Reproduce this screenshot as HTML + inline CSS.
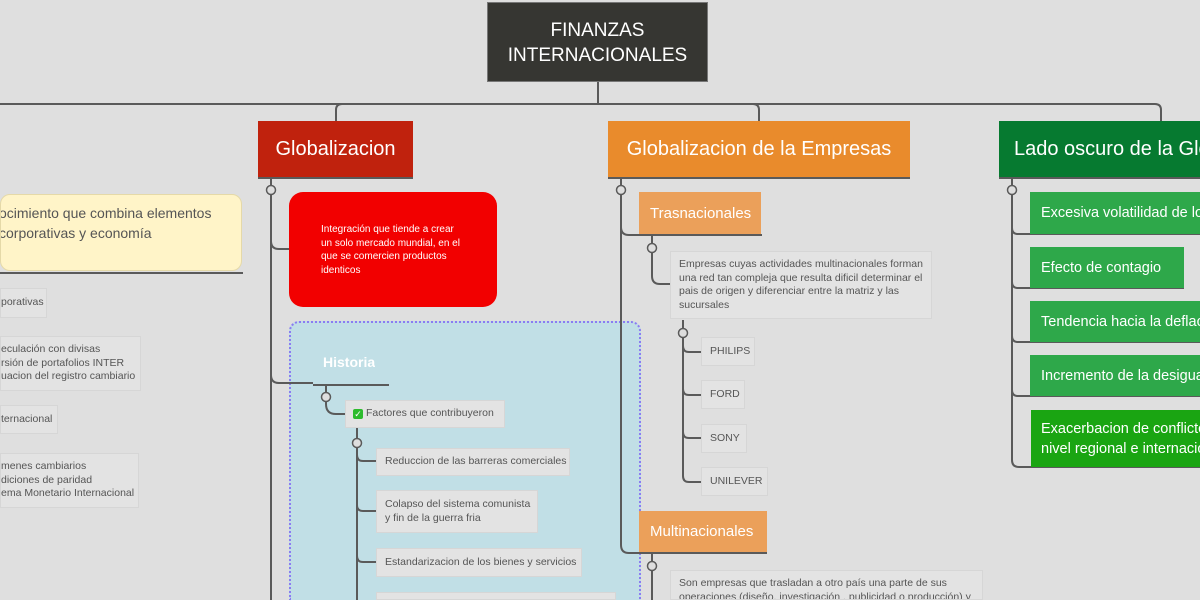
<!DOCTYPE html>
<html><head><meta charset="utf-8"><style>
html,body{margin:0;width:1200px;height:600px;overflow:hidden;background:#dfdfdf}
#w{position:relative;width:1200px;height:600px;overflow:hidden;font-family:"Liberation Sans",sans-serif}
.b{position:absolute;box-sizing:border-box;overflow:hidden}
.g{background:#e3e3e3;border:1px solid #d6d6d6;color:#555;font-size:10.5px;line-height:13.5px;padding:0 8px;display:flex;align-items:center;white-space:nowrap}
svg{position:absolute;left:0;top:0}
</style></head><body><div id="w">
<div class="b" style="left:0;top:194px;width:242px;height:77px;background:#fff4c8;border:1px solid #e5d9a8;border-radius:10px;color:#555;font-size:14px;line-height:20px;padding:8px 0 0 0;white-space:nowrap"><div style="margin-left:-2px">ocimiento que combina elementos<br>corporativas y economía</div></div>
<div class="b g" style="left:0;top:288px;width:47px;height:30px;padding-left:0">porativas</div>
<div class="b g" style="left:0;top:336px;width:141px;height:55px;padding-left:0">eculación con divisas<br>rsión de portafolios INTER<br>uacion del registro cambiario</div>
<div class="b g" style="left:0;top:405px;width:58px;height:29px;padding-left:0">ternacional</div>
<div class="b g" style="left:0;top:453px;width:139px;height:55px;padding-left:0">menes cambiarios<br>diciones de paridad<br>ema Monetario Internacional</div>

<div class="b" style="left:289px;top:321px;width:352px;height:279px;background:#c1dfe6;border:2px dotted #8b7cf2;border-bottom:none;border-radius:10px 10px 0 0"></div>

<svg width="1200" height="600" fill="none" stroke="#5a5a5a" stroke-width="2">
<path d="M598 82V104M0 104H1155q6 0 6 6V121M342 104q-6 0-6 6V121M753 104q6 0 6 6V121"/>
<path d="M0 273H243M258 178H413M608 178H910M999 178H1200"/>
<path d="M271 178V600M271 241q0 8 8 8H289M271 375q0 8 8 8H313M313 385H389"/>
<path d="M326 385V404q0 10 10 10H345M357 428V600M357 455q0 6 6 6H376M357 505q0 6 6 6H376M357 556q0 6 6 6H376"/>
<path d="M621 178V545q0 8 8 8H767M621 227q0 8 8 8H762M652 235V276q0 8 8 8H670M683 320V346q0 6 6 6H701M683 389q0 6 6 6H701M683 432q0 6 6 6H701M683 345V476q0 6 6 6H701M652 553V600"/>
<path d="M1012 178V460q0 7 7 7H1200M1012 228q0 6 6 6H1200M1012 282q0 6 6 6H1184M1012 336q0 6 6 6H1200M1012 390q0 6 6 6H1200"/>
<g fill="#dedede" stroke-width="1.5"><circle cx="271" cy="190" r="4.5"/><circle cx="326" cy="397" r="4.5"/><circle cx="357" cy="443" r="4.5"/><circle cx="621" cy="190" r="4.5"/><circle cx="652" cy="248" r="4.5"/><circle cx="683" cy="333" r="4.5"/><circle cx="652" cy="566" r="4.5"/><circle cx="1012" cy="190" r="4.5"/></g>
</svg>

<div class="b" style="left:487px;top:2px;width:221px;height:80px;background:#363632;border:1px solid #777;color:#fff;font-size:19px;line-height:25px;text-align:center;padding-top:15px">FINANZAS<br>INTERNACIONALES</div>
<div class="b" style="left:258px;top:121px;width:155px;height:56px;background:#c0220d;color:#fff;font-size:20px;display:flex;align-items:center;justify-content:center">Globalizacion</div>
<div class="b" style="left:608px;top:121px;width:302px;height:56px;background:#e98b2c;color:#fff;font-size:20px;display:flex;align-items:center;justify-content:center">Globalizacion de la Empresas</div>
<div class="b" style="left:999px;top:121px;width:201px;height:56px;background:#067a30;color:#fff;font-size:20px;display:flex;align-items:center;padding-left:15px;white-space:nowrap">Lado oscuro de la Globalizacion</div>

<div class="b" style="left:289px;top:192px;width:208px;height:115px;background:#f20000;border-radius:14px;color:#fff;font-size:10px;line-height:13.5px;padding:31px 0 0 32px">Integración que tiende a crear<br>un solo mercado mundial, en el<br>que se comercien productos<br>identicos</div>
<div class="b" style="left:323px;top:354px;color:#fff;font-weight:bold;font-size:14px">Historia</div>
<div class="b g" style="left:345px;top:400px;width:160px;height:28px;padding:0 7px"><span style="display:inline-block;width:10px;height:10px;background:#2dbb2d;border-radius:2px;color:#fff;font-size:9px;line-height:10px;text-align:center;margin-right:3px">✓</span>Factores que contribuyeron</div>
<div class="b g" style="left:376px;top:448px;width:194px;height:28px">Reduccion de las barreras comerciales</div>
<div class="b g" style="left:376px;top:490px;width:162px;height:43px">Colapso del sistema comunista<br>y fin de la guerra fria</div>
<div class="b g" style="left:376px;top:548px;width:206px;height:29px">Estandarizacion de los bienes y servicios</div>
<div class="b g" style="left:376px;top:592px;width:240px;height:8px"></div>

<div class="b" style="left:639px;top:192px;width:122px;height:42px;background:#eba05a;color:#fff;font-size:15px;display:flex;align-items:center;padding-left:11px">Trasnacionales</div>
<div class="b g" style="left:670px;top:251px;width:262px;height:68px;white-space:normal;align-items:center">Empresas cuyas actividades multinacionales forman una red tan compleja que resulta dificil determinar el pais de origen y diferenciar entre la matriz y las sucursales</div>
<div class="b g" style="left:701px;top:337px;width:54px;height:29px">PHILIPS</div>
<div class="b g" style="left:701px;top:380px;width:44px;height:29px">FORD</div>
<div class="b g" style="left:701px;top:424px;width:46px;height:29px">SONY</div>
<div class="b g" style="left:701px;top:467px;width:67px;height:29px">UNILEVER</div>
<div class="b" style="left:639px;top:511px;width:128px;height:41px;background:#eba05a;color:#fff;font-size:15px;display:flex;align-items:center;padding-left:11px">Multinacionales</div>
<div class="b g" style="left:670px;top:570px;width:313px;height:30px;white-space:normal;align-items:flex-start;padding-top:6px">Son empresas que trasladan a otro país una parte de sus operaciones (diseño, investigación , publicidad o producción) y</div>

<div class="b" style="left:1030px;top:192px;width:170px;height:42px;background:#2ea84a;color:#fff;font-size:14.5px;display:flex;align-items:center;padding-left:11px;white-space:nowrap">Excesiva volatilidad de los capitales</div>
<div class="b" style="left:1030px;top:247px;width:154px;height:41px;background:#2ea84a;color:#fff;font-size:14.5px;display:flex;align-items:center;padding-left:11px;white-space:nowrap">Efecto de contagio</div>
<div class="b" style="left:1030px;top:301px;width:170px;height:41px;background:#2ea84a;color:#fff;font-size:14.5px;display:flex;align-items:center;padding-left:11px;white-space:nowrap">Tendencia hacia la deflacion</div>
<div class="b" style="left:1030px;top:355px;width:170px;height:41px;background:#2ea84a;color:#fff;font-size:14.5px;display:flex;align-items:center;padding-left:11px;white-space:nowrap">Incremento de la desigualdad</div>
<div class="b" style="left:1031px;top:410px;width:169px;height:57px;background:#1aa512;color:#fff;font-size:14.5px;line-height:20px;padding:9px 0 0 10px;white-space:nowrap">Exacerbacion de conflictos a<br>nivel regional e internacional</div>
</div></body></html>
